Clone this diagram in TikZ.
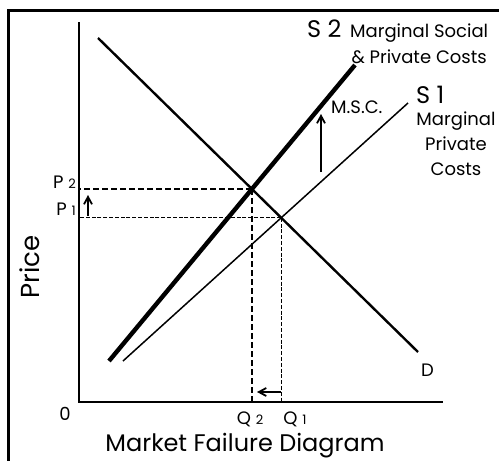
\documentclass[tikz,border=0pt]{standalone}
\usepackage{fontspec}
\setmainfont{Poppins}
\usetikzlibrary{arrows.meta,positioning}

\begin{document}
\begin{tikzpicture}[
x=1pt, y=-1pt,
frame/.style={line width=3pt},
axis/.style={line width=2.3pt},
demand/.style={line width=2.4pt},
social/.style={line width=4.4pt},
private/.style={line width=1.5pt},
guide/.style={line width=1.9pt, dash pattern=on 6pt off 3pt},
fineguide/.style={line width=1.4pt, dash pattern=on 4pt off 1.8pt},
shiftarrow/.style={-{Straight Barb[length=2.6mm,width=2.8mm]}, line width=1.8pt},
lbl/.style={inner sep=0pt, font=\fontsize{18}{25}\selectfont},
big/.style={inner sep=0pt, font=\fontsize{24}{26}\selectfont}
]
\useasboundingbox (0,0) rectangle (499,461);

% frame round the figure
\draw[frame] (8,461) -- (8,10) -- (499,10);

% axes
\coordinate (origin) at (79,402);
\coordinate (ytop) at (79,22);
\coordinate (xend) at (443,402);
\draw[axis] (ytop) -- (origin) -- (xend);

% curves
\coordinate (d1) at (98,38);
\coordinate (d2) at (418,352);
\coordinate (s2a) at (109,361);
\coordinate (s2b) at (355,65);
\coordinate (s1a) at (123,361);
\coordinate (s1b) at (408,103);
\draw[demand] (d1) -- (d2);
\draw[social] (s2a) -- (s2b);
\draw[private] (s1a) -- (s1b);

% equilibria
\coordinate (eq2) at (intersection of d1--d2 and s2a--s2b);
\coordinate (eq1) at (intersection of d1--d2 and s1a--s1b);
\draw[guide] (eq2) -- (eq2 -| origin);
\draw[guide] (eq2) -- (eq2 |- origin);
\draw[fineguide] (eq1) -- (eq1 -| origin);
\draw[fineguide] (eq1) -- (eq1 |- origin);

% shifts
\coordinate (pfrom) at (88,216);
\coordinate (pto) at (88,195);
\draw[shiftarrow] (pfrom) -- (pto);
\coordinate (qfrom) at (281,392);
\coordinate (qto) at (257,392);
\draw[shiftarrow] (qfrom) -- (qto);
\coordinate (mfrom) at (321,172);
\coordinate (mto) at (321,114);
\draw[shiftarrow] (mfrom) -- (mto);

% labels
\node[lbl, anchor=base east] (p2) at (76,188) {P {\fontsize{13}{14}\selectfont 2}};
\node[lbl, anchor=base east] (p1) at (76,215) {P {\fontsize{13}{14}\selectfont 1}};
\node[lbl, anchor=base] (q2) at (250,424) {Q {\fontsize{13}{14}\selectfont 2}};
\node[lbl, anchor=base] (q1) at (295,424) {Q {\fontsize{13}{14}\selectfont 1}};
\node[lbl, anchor=base] (zero) at (65,420) {0};
\node[lbl, anchor=base west] (dlabel) at (421,376) {D};
\node[inner sep=0pt, font=\fontsize{26}{28}\selectfont, rotate=90] (price) at (30,267) {Price};
\node[big, anchor=base] (title) at (245,451) {Market Failure Diagram};

\node[big, anchor=base west] (s2) at (307,37) {S 2};
\node[lbl, anchor=base west] (s2text) at (350,37) {Marginal Social};
\node[lbl, below=8pt of s2text] (s2text2) {\& Private Costs};
\node[lbl, anchor=base west] (msc) at (331,113) {M.S.C.};
\node[big, anchor=base west] (s1) at (416,103) {S 1};
\node[lbl, align=center, anchor=north] (s1text) at (456,112) {Marginal\\Private\\Costs};
\end{tikzpicture}
\end{document}
